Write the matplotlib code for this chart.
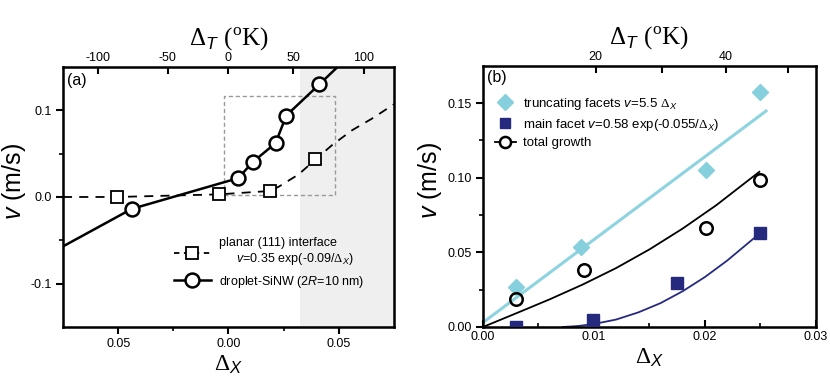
import numpy as np
import matplotlib
matplotlib.use('Agg')
import matplotlib.pyplot as plt
from matplotlib.lines import Line2D
from matplotlib.patches import Rectangle

plt.rcParams['font.family'] = ['Liberation Sans', 'DejaVu Sans']
plt.rcParams['mathtext.fontset'] = 'custom'
plt.rcParams['mathtext.rm'] = 'Liberation Serif'
plt.rcParams['mathtext.it'] = 'Liberation Sans:italic'
plt.rcParams['mathtext.sf'] = 'Liberation Sans'

# panel (a) data
planar_x = [-0.0507, -0.0045, 0.0186, 0.0394]
planar_y = [0.0, 0.003, 0.0069, 0.0433]
planar_curve_x = [-0.075, -0.0507, -0.0045, 0.0186, 0.0228, 0.0318, 0.0394, 0.0469, 0.056, 0.065, 0.075]
planar_curve_y = [0.0, 0.0, 0.003, 0.0069, 0.0119, 0.0261, 0.0433, 0.0598, 0.077, 0.0904, 0.107]
drop_x = [-0.0439, 0.0045, 0.0109, 0.0213, 0.0262, 0.0412]
drop_y = [-0.0138, 0.0218, 0.0402, 0.062, 0.094, 0.130]
drop_line_x = [-0.075, -0.0439, 0.0045, 0.0109, 0.0213, 0.0262, 0.0412, 0.049]
drop_line_y = [-0.057, -0.0138, 0.0218, 0.0402, 0.062, 0.094, 0.130, 0.149]
shade_a = [0.0325, 0.075]
box_a = [-0.0022, 0.0484, 0.0023, 0.116]
top_ticks_a = [-0.0591, -0.0275, 0.0, 0.0293, 0.0612]
top_labels_a = ['-100', '-50', '0', '50', '100']

# panel (b) data
trunc_x = [0.00295, 0.00886, 0.0201, 0.02495]
trunc_y = [0.0269, 0.0535, 0.1051, 0.1575]
trunc_fit_x = [0.0, 0.0255]
trunc_fit_y = [0.003, 0.1447]
main_x = [0.003, 0.00994, 0.01745, 0.02495]
main_y = [0.0, 0.0047, 0.0298, 0.0631]
main_fit_x = [0.0072, 0.0085, 0.01, 0.012, 0.014, 0.016, 0.018, 0.02, 0.022, 0.0249]
main_fit_y = [0.0, 0.0006, 0.0020, 0.0050, 0.0098, 0.0160, 0.0240, 0.0335, 0.0445, 0.0625]
total_x = [0.00297, 0.0091, 0.0201, 0.02495]
total_y = [0.0189, 0.038, 0.0662, 0.0985]
total_fit_x = [0.0, 0.003, 0.006, 0.009, 0.012, 0.015, 0.018, 0.021, 0.0249]
total_fit_y = [0.0, 0.0092, 0.0185, 0.0285, 0.0395, 0.052, 0.066, 0.0815, 0.104]
top_ticks_b = [0.01015, 0.02186]
top_minor_b = [0.01610, 0.02745]
top_labels_b = ['20', '40']

lightblue = '#8dd3e0'
navy = '#252a7e'

fig = plt.figure(figsize=(8.3, 3.91), dpi=100)

# ---- panel (a)
ax = fig.add_axes([0.0759, 0.1637, 0.3988, 0.665])
ax.axvspan(shade_a[0], shade_a[1], color='#efefef', lw=0, zorder=0)
ax.add_patch(Rectangle((box_a[0], box_a[2]), box_a[1] - box_a[0], box_a[3] - box_a[2],
                       fill=False, ec='#999999', ls=(0, (3, 2)), lw=1, zorder=1))
ax.plot(planar_curve_x, planar_curve_y, color='black', ls=(0, (5, 4)), lw=1.3, zorder=2)
ax.plot(planar_x, planar_y, ls='none', marker='s', ms=9, mfc='white', mec='black', mew=1.3, zorder=3)
ax.plot(drop_line_x, drop_line_y, color='black', lw=1.8, zorder=2)
ax.plot(drop_x, drop_y, ls='none', marker='o', ms=10, mfc='white', mec='black', mew=1.8, zorder=3)
ax.set_xlim(-0.075, 0.075)
ax.set_ylim(-0.15, 0.15)
ax.set_xticks([-0.05, 0.0, 0.05])
ax.set_xticklabels(['0.05', '0.00', '0.05'])
ax.set_xticks([-0.025, 0.025], minor=True)
ax.set_yticks([-0.1, 0.0, 0.1])
ax.set_yticklabels(['-0.1', '0.0', '0.1'])
ax.set_yticks([-0.05, 0.05], minor=True)
ax.tick_params(which='major', direction='out', length=5, width=1.5, labelsize=9, pad=3)
ax.tick_params(which='minor', direction='out', length=3, width=1.2)
for s in ax.spines.values():
    s.set_linewidth(1.8)
ax.set_xlabel(r'$\Delta_X$', fontsize=17, labelpad=2)
ax.set_ylabel(r'$v$ (m/s)', fontsize=18)
ax.yaxis.set_label_coords(-0.106, 0.56)
ax.text(0.012, 0.975, '(a)', transform=ax.transAxes, fontsize=11.5, va='top', ha='left')

h1 = Line2D([], [], color='black', ls=(0, (3, 2.5)), lw=1.3, marker='s', ms=9, mfc='white', mec='black', mew=1.3)
h2 = Line2D([], [], color='black', lw=1.8, marker='o', ms=10, mfc='white', mec='black', mew=1.8)
leg = ax.legend([h1, h2],
                ['planar (111) interface\n     $v$=0.35 exp(-0.09/$\\Delta_X$)',
                 'droplet-SiNW (2$R$=10 nm)'],
                loc='lower left', bbox_to_anchor=(0.30, 0.10), frameon=False,
                fontsize=9, handlelength=3.0, handletextpad=0.6, labelspacing=0.5)

axt = ax.twiny()
axt.set_xlim(ax.get_xlim())
axt.set_xticks(top_ticks_a)
axt.set_xticklabels(top_labels_a)
axt.tick_params(direction='in', length=5, width=1.5, labelsize=9, pad=2)
axt.set_xlabel(r'$\Delta_T\ (^{\mathrm{o}}\mathrm{K})$', fontsize=18, labelpad=5)

# ---- panel (b)
bx = fig.add_axes([0.5819, 0.1637, 0.4012, 0.668])
bx.plot(trunc_fit_x, trunc_fit_y, color=lightblue, lw=2.2, zorder=2)
bx.plot(main_fit_x, main_fit_y, color=navy, lw=1.3, zorder=2)
bx.plot(total_fit_x, total_fit_y, color='black', lw=1.3, zorder=2)
bx.plot(trunc_x, trunc_y, ls='none', marker='D', ms=8, color='#86cfdc', zorder=3)
bx.plot(main_x, main_y, ls='none', marker='s', ms=8.5, color=navy, zorder=3)
bx.plot(total_x, total_y, ls='none', marker='o', ms=9, mfc='none', mec='black', mew=1.8, zorder=3)
bx.set_xlim(0, 0.03)
bx.set_ylim(0, 0.175)
bx.set_xticks([0.0, 0.01, 0.02, 0.03])
bx.set_xticklabels(['0.00', '0.01', '0.02', '0.03'])
bx.set_xticks([0.005, 0.015, 0.025], minor=True)
bx.set_yticks([0.0, 0.05, 0.10, 0.15])
bx.set_yticklabels(['0.00', '0.05', '0.10', '0.15'])
bx.set_yticks([0.025, 0.075, 0.125], minor=True)
bx.tick_params(axis='x', which='both', direction='in', labelsize=9)
bx.tick_params(axis='y', which='both', direction='out', labelsize=9)
bx.tick_params(which='major', length=5, width=1.5, pad=3)
bx.tick_params(which='minor', length=3, width=1.2)
for s in bx.spines.values():
    s.set_linewidth(1.8)
bx.set_xlabel(r'$\Delta_X$', fontsize=17, labelpad=2)
bx.set_ylabel(r'$v$ (m/s)', fontsize=18)
bx.yaxis.set_label_coords(-0.117, 0.56)
bx.text(0.012, 0.985, '(b)', transform=bx.transAxes, fontsize=11.5, va='top', ha='left')

g1 = Line2D([], [], ls='none', marker='D', ms=8, color='#86cfdc')
g2 = Line2D([], [], ls='none', marker='s', ms=7, color=navy)
g3 = Line2D([], [], color='black', lw=1.3, marker='o', ms=8, mfc='white', mec='black', mew=1.8)
bx.legend([g1, g2, g3],
          ['truncating facets $v$=5.5 $\\Delta_X$',
           'main facet $v$=0.58 exp(-0.055/$\\Delta_X$)',
           'total growth'],
          loc='upper left', bbox_to_anchor=(0.0, 0.93), frameon=False,
          fontsize=9.5, handlelength=1.6, handletextpad=0.5, labelspacing=0.35)

bxt = bx.twiny()
bxt.set_xlim(bx.get_xlim())
bxt.set_xticks(top_ticks_b)
bxt.set_xticklabels(top_labels_b)
bxt.set_xticks(top_minor_b, minor=True)
bxt.tick_params(which='major', direction='in', length=5, width=1.5, labelsize=9, pad=2)
bxt.tick_params(which='minor', direction='in', length=5, width=1.5)
bxt.set_xlabel(r'$\Delta_T\ (^{\mathrm{o}}\mathrm{K})$', fontsize=18, labelpad=5)

fig.savefig('out.png', dpi=100)
